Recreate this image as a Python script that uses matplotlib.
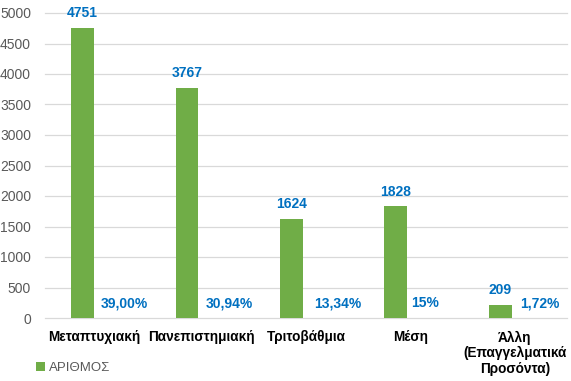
import matplotlib.pyplot as plt
import numpy as np

# datos
categorias = ['Μεταπτυχιακή', 'Πανεπιστημιακή', 'Τριτοβάθμια', 'Μέση',
              'Άλλη\n(Επαγγελματικά\nΠροσόντα)']
arithmos = [4751, 3767, 1624, 1828, 209]
pososta = ['39,00%', '30,94%', '13,34%', '15%', '1,72%']
yticks = [0, 500, 1000, 1500, 2000, 2500, 3000, 3500, 4000, 4500, 5000]

verde = '#70AD47'
azul = '#0070C0'
gris = '#595959'

# posiciones (layout)
x = np.arange(len(categorias))
desp_barra = -0.14
desp_pct = [0.26, 0.27, 0.30, 0.145, 0.24]
desp_label = [-0.03, 0, 0, 0, 0]

plt.rcParams['font.family'] = ['Liberation Sans', 'DejaVu Sans']

fig = plt.figure(figsize=(5.71, 3.81), dpi=100)
ax = fig.add_axes([45/571, 1-318/381, 522/571, 305/381])

for t in yticks:
    ax.axhline(t, color='#D9D9D9', lw=0.9, zorder=0, clip_on=False)

ax.bar(x + desp_barra, arithmos, width=0.22, color=verde, zorder=2, label='ΑΡΙΘΜΟΣ')

for i, v in enumerate(arithmos):
    ax.text(x[i] + desp_barra, v + 130, str(v), ha='center', va='bottom',
            color=azul, fontsize=10, fontweight='bold')
    ax.text(x[i] + desp_pct[i], 240, pososta[i], ha='center', va='center',
            color=azul, fontsize=10, fontweight='bold')

ax.set_xlim(-0.5, len(categorias) - 0.5)
ax.set_ylim(0, 5000)
ax.set_yticks(yticks)
ax.tick_params(axis='y', length=0, pad=10, labelsize=10, labelcolor=gris)
ax.set_xticks(x + np.array(desp_label))
ax.set_xticklabels(categorias, fontsize=9.8, fontweight='bold', linespacing=1.15)
ax.tick_params(axis='x', length=0, pad=9)
for s in ax.spines.values():
    s.set_visible(False)

fig.legend(loc='center left', bbox_to_anchor=(29/571, 1-368/381), frameon=False,
           handlelength=0.75, handleheight=0.75, handletextpad=0.3, borderpad=0,
           prop={'size': 9.5}, labelcolor=gris)

fig.savefig('out.png', dpi=100)
